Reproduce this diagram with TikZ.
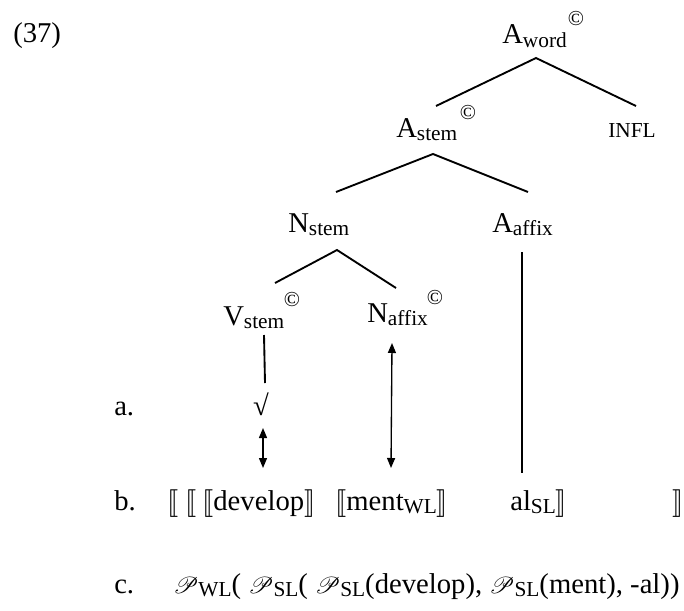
\documentclass[tikz,border=0pt]{standalone}
\usepackage{fontspec}
\setmainfont{Liberation Serif}
\usepackage{stmaryrd}
\usepackage{mathrsfs}
\usetikzlibrary{arrows.meta}
\newcommand{\sbx}[1]{\raisebox{-0.12em}{\fontsize{16}{18}\selectfont #1}}
\newcommand{\lbk}{\ensuremath{\llbracket}}
\newcommand{\rbk}{\ensuremath{\rrbracket}}
\newcommand{\PPx}[1]{{\fontsize{17}{20}\selectfont\ensuremath{\mathscr{P}}}\sbx{#1}}
\begin{document}
\begin{tikzpicture}[x=0.75pt,y=-0.75pt,
  every node/.style={inner sep=0pt, font=\fontsize{21.5}{26}\selectfont},
  tree/.style={line width=1.4pt},
  arr/.style={line width=1pt, {Triangle[length=7.5pt,width=6pt]}-{Triangle[length=7.5pt,width=6pt]}},
  cop/.style={font=\fontsize{16}{16}\selectfont}]
\useasboundingbox (0,0) rectangle (684,610);
% labels
\node[anchor=base west] (n37) at (13,43) {(37)};
\node[anchor=base west] (aword) at (502,44) {A\sbx{word}};
\node[cop] (cw) at (576,19) {\textcopyright};
\node[anchor=base west] (infl) at (608,137) {\fontsize{16}{18}\selectfont INFL};
\node[anchor=base west] (astem) at (396,137) {A\sbx{stem}};
\node[cop] (cs) at (468,113) {\textcopyright};
\node[anchor=base west] (nstem) at (288,232) {N\sbx{stem}};
\node[anchor=base west] (aaffix) at (492,232) {A\sbx{affix}};
\node[anchor=base west] (vstem) at (223,325) {V\sbx{stem}};
\node[cop] (cv) at (292,300) {\textcopyright};
\node[anchor=base west] (naffix) at (367,322) {N\sbx{affix}};
\node[cop] (cn) at (435,298) {\textcopyright};
\node[anchor=base] (root) at (261,415) {√};
\node[anchor=base west] (la) at (114,415) {a.};
\node[anchor=base west] (lb) at (114,510) {b.};
\node[anchor=base west] (lc) at (114,593) {c.};
% row b
\node[anchor=base west] (b1) at (167,510) {\lbk};
\node[anchor=base west] (b2) at (185,510) {\lbk};
\node[anchor=base west] (dev) at (202,510) {\lbk develop\rbk};
\node[anchor=base west] (ment) at (335,510) {\lbk ment\sbx{WL}\rbk};
\node[anchor=base west] (al) at (510,510) {al\sbx{SL}\rbk};
\node[anchor=base west] (rb) at (672,510) {\rbk};
% row c
\node[anchor=base west] (rc) at (173,593) {\PPx{WL}( \PPx{SL}( \PPx{SL}(develop), \PPx{SL}(ment), -al))};
% connector ends
\coordinate (aword-s) at (536,58);
\coordinate (astem-n) at (436,106);
\coordinate (infl-n) at (636,106);
\coordinate (astem-s) at (433,154);
\coordinate (nstem-n) at (336,192);
\coordinate (aaffix-n) at (528,192);
\coordinate (nstem-s) at (337,250);
\coordinate (vstem-n) at (275,283);
\coordinate (naffix-n) at (396,288);
\coordinate (vstem-s) at (264,335);
\coordinate (root-n) at (265,383);
\coordinate (root-s) at (263,428);
\coordinate (dev-n) at (263,468);
\coordinate (naffix-s) at (392,343);
\coordinate (ment-n) at (391,468);
\coordinate (aaffix-s) at (522,252);
\coordinate (al-n) at (522,473);
% tree
\draw[tree] (astem-n) -- (aword-s) -- (infl-n);
\draw[tree] (nstem-n) -- (astem-s) -- (aaffix-n);
\draw[tree] (vstem-n) -- (nstem-s) -- (naffix-n);
\draw[tree] (vstem-s) -- (root-n);
\draw[tree] (aaffix-s) -- (al-n);
\draw[arr] (root-s) -- (dev-n);
\draw[arr] (naffix-s) -- (ment-n);
\end{tikzpicture}
\end{document}
